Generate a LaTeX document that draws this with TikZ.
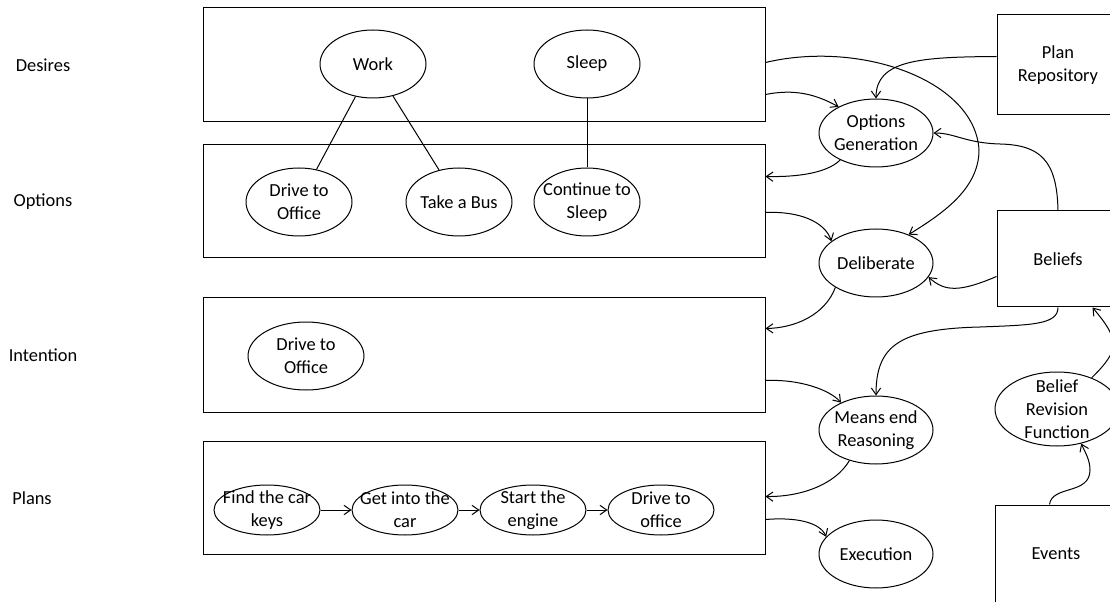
\documentclass[tikz,border=0pt]{standalone}
\usepackage{fontspec}
\setmainfont{Carlito}
\usetikzlibrary{shapes.geometric,arrows.meta,calc}
\begin{document}
\begin{tikzpicture}[x=0.75pt,y=-0.75pt,line width=0.75pt,
  every node/.style={font=\fontsize{13.8pt}{17.25pt}\selectfont, align=center},
  lane/.style={draw, rectangle, minimum width=421.5pt, inner sep=0pt},
  side/.style={draw, rectangle, minimum width=91.5pt, inner sep=0pt},
  ell/.style={draw, ellipse, inner sep=-20pt, minimum width=79.5pt, minimum height=51pt},
  pell/.style={ell, minimum height=37.5pt},
  rell/.style={ell, minimum width=85.5pt},
  arr/.style={-{Straight Barb[length=5pt,width=7pt]}},
]
\useasboundingbox (0,0) rectangle (1110,602);
\clip (0,0) rectangle (1110,602);

% row titles
\node (ldes) at (43,65) {Desires};
\node (lopt) at (43,202) {Options};
\node (lint) at (43,355) {Intention};
\node (lpla) at (32,498) {Plans};

% lanes
\node[lane, minimum height=85.5pt]  (desbox)  at (484,65)    {};
\node[lane, minimum height=84.75pt] (optbox)  at (484,201.5) {};
\node[lane, minimum height=85.5pt]  (intbox)  at (484,355)   {};
\node[lane, minimum height=84.75pt] (planbox) at (484,497.5) {};

% desires and options
\node[ell] (work)  at (373,64)  {Work};
\node[ell] (sleep) at (587,64)  {Sleep};
\node[ell] (dto)   at (299,202) {Drive to\\Office};
\node[ell] (bus)   at (459,202) {Take a Bus};
\node[ell] (cont)  at (587,202) {Continue to\\Sleep};
\draw (work) -- (dto);
\draw (work) -- (bus);
\draw (sleep) -- (cont);

% intention
\node[ell, minimum width=87pt] (idto) at (306,356) {Drive to\\Office};

% plan steps
\node[pell] (f1) at (267,510) {Find the car\\keys};
\node[pell] (f2) at (405,510) {Get into the\\car};
\node[pell] (f3) at (533,510) {Start the\\engine};
\node[pell] (f4) at (661,510) {Drive to\\office};
\draw[arr] (f1) -- (f2);
\draw[arr] (f2) -- (f3);
\draw[arr] (f3) -- (f4);

% processes
\node[rell] (og)    at (876,133) {Options\\Generation};
\node[rell] (delib) at (876,263) {Deliberate};
\node[rell] (mer)   at (876,430) {Means end\\Reasoning};
\node[rell] (exe)   at (876,554) {Execution};

% stores
\node[side, minimum height=75pt]   (repo)    at (1058,65)  {Plan\\Repository};
\node[side, minimum height=72pt]   (beliefs) at (1058,259) {Beliefs};
\node[ell, minimum width=93pt, minimum height=55.5pt] (brf) at (1057,409) {Belief\\Revision\\Function};
\node[side, minimum height=73.5pt] (events)  at (1056,554) {Events};

% flows
\draw[arr] ($(desbox.north east)+(0,87)$) .. controls +(30,-6) and +(-22,-12) .. (og.145);
\draw[arr] ($(desbox.north east)+(0,55)$) .. controls (860,40) and (975,80) .. (979,150)
  .. controls (979,190) and (940,215) .. (delib.41);
\draw[arr] ($(repo.north west)+(0,42)$) .. controls (920,57) and (876,60) .. (og.north);
\draw[arr] (beliefs.north) .. controls (1057,160) and (1040,145) .. (1000,144)
  .. controls (965,143) and (955,133) .. (og.east);
\draw[arr] (og.217) .. controls (825,175) and (790,177) .. ($(optbox.north east)+(0,32)$);
\draw[arr] ($(optbox.north east)+(0,68)$) .. controls (800,211) and (825,222) .. (delib.154);
\draw[arr] ($(beliefs.north west)+(0,66)$) .. controls (960,292) and (945,292) .. (delib.345);
\draw[arr] (delib.211) .. controls (825,315) and (795,328) .. ($(intbox.north east)+(0,31)$);
\draw[arr] (beliefs.south) .. controls (1058,325) and (1030,325) .. (980,327)
  .. controls (900,329) and (876,345) .. (mer.north);
\draw[arr] ($(intbox.north east)+(0,83)$) .. controls (800,379) and (830,390) .. (mer.142);
\draw[arr] (mer.229) .. controls (835,485) and (800,497) .. ($(planbox.north east)+(0,56)$);
\draw[arr] ($(planbox.north east)+(0,79)$) .. controls (795,517) and (820,522) .. (exe.161);
\draw[arr] ($(events.north west)+(55,0)$) .. controls (1052,485) and (1090,495) .. (1090,470)
  .. controls (1090,460) and (1085,452) .. (brf.305);
\draw[arr] (brf.42) .. controls (1120,350) and (1120,340) .. ($(beliefs.south west)+(96,0)$);
\end{tikzpicture}
\end{document}
